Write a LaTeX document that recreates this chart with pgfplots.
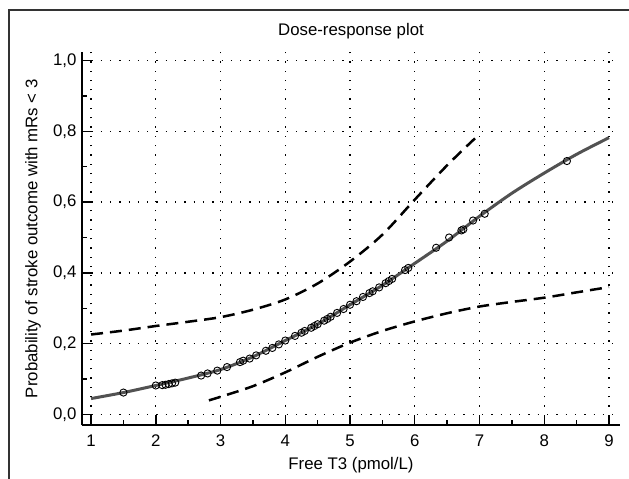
\documentclass[border=0pt]{standalone}
\usepackage{pgfplots}
\pgfplotsset{compat=1.18}
\usepackage{fontspec}
\setmainfont{Liberation Sans}
\begin{document}
\begin{tikzpicture}[x=1pt,y=1pt]
\path[use as bounding box] (0,0) rectangle (629,479);
\draw[line width=1.4pt, black!80] (9,-2) -- (9,469) -- (632,469);
\begin{axis}[
  at={(82pt,53.7pt)}, anchor=south west,
  scale only axis, width=538pt, height=373.3pt,
  xmin=0.86, xmax=9.17, ymin=-0.0305, ymax=1.024,
  axis x line=bottom, axis y line=left,
  axis line style={line width=1.6pt, -},
  xtick={1,2,...,9}, ytick={0,0.2,...,1.0},
  minor xtick={1.5,2.5,...,8.5}, minor ytick={0.1,0.3,...,0.9},
  tick align=inside,
  major tick length=10pt, minor tick length=5pt,
  every tick/.style={black, line width=1.4pt},
  grid=major,
  major grid style={black, line width=1.3pt, dash pattern=on 1.3pt off 8pt},
  /pgf/number format/assume math mode=true,
  yticklabel style={xshift=-2pt, /pgf/number format/.cd, use comma, fixed, fixed zerofill, precision=1},
  xticklabel style={yshift=-6pt},
  ticklabel style={font=\fontsize{16.8}{19}\selectfont},
  label style={font=\fontsize{16.8}{19}\selectfont},
  title style={font=\fontsize{16.8}{19}\selectfont, at={(axis description cs:0.5,1.040)}, anchor=center},
  title={Dose-response plot},
  xlabel={Free T3 (pmol/L)},
  ylabel={Probability of stroke outcome with mRs < 3},
  xlabel style={at={(axis description cs:0.5,-0.108)}, anchor=center},
  ylabel style={at={(axis description cs:-0.091,0.5)}, anchor=center},
  clip=false,
]
% upper confidence limit
\addplot[black, line width=2.5pt, dash pattern=on 12pt off 7pt, smooth] coordinates {
(1,0.226) (1.5,0.237) (2,0.250) (2.5,0.262) (3,0.275) (3.5,0.296) (4,0.325) (4.5,0.370) (5,0.432) (5.5,0.508) (6,0.607) (6.5,0.704) (6.93,0.780)};
% lower confidence limit
\addplot[black, line width=2.5pt, dash pattern=on 12pt off 7pt, smooth] coordinates {
(2.82,0.040) (3,0.050) (3.5,0.080) (4,0.119) (4.5,0.163) (5,0.203) (5.5,0.236) (6,0.263) (6.5,0.286) (7,0.305) (7.5,0.318) (8,0.330) (8.5,0.345) (9,0.360)};
% fitted curve
\addplot[color=black!68, line width=3pt, smooth] coordinates {
(1,0.045) (1.5,0.062) (2,0.082) (2.5,0.103) (3,0.127) (3.5,0.163) (4,0.209) (4.5,0.255) (5,0.310) (5.5,0.365) (6,0.427) (6.5,0.490) (7,0.560) (7.5,0.625) (8,0.682) (8.5,0.735) (9,0.782)};
% observations
\addplot[only marks, mark=o, mark size=3.6pt, mark options={black, line width=0.9pt}] coordinates {
(1.5,0.062) (2.0,0.082) (2.1,0.083) (2.15,0.084) (2.2,0.086) (2.25,0.088) (2.3,0.090)
(2.7,0.110) (2.8,0.116) (2.95,0.124) (3.1,0.134) (3.3,0.148) (3.35,0.152) (3.45,0.158)
(3.55,0.167) (3.7,0.180) (3.8,0.188) (3.9,0.198) (4.0,0.209) (4.15,0.222) (4.25,0.231)
(4.3,0.236) (4.4,0.245) (4.45,0.250) (4.5,0.255) (4.6,0.265) (4.65,0.270) (4.7,0.276)
(4.8,0.287) (4.9,0.298) (5.0,0.310) (5.1,0.320) (5.2,0.332) (5.3,0.343) (5.35,0.348)
(5.45,0.359) (5.55,0.371) (5.6,0.377) (5.65,0.383) (5.85,0.408) (5.9,0.414) (6.33,0.471)
(6.53,0.500) (6.72,0.520) (6.75,0.523) (6.9,0.548) (7.08,0.567) (8.35,0.716)};
\end{axis}
\end{tikzpicture}
\end{document}
